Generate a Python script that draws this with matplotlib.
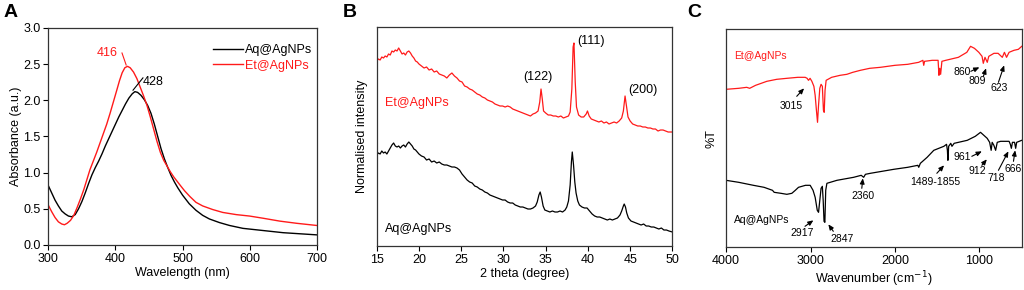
import numpy as np
import matplotlib
matplotlib.use("Agg")
import matplotlib.pyplot as plt

# ---- A: UV-vis absorbance ----
wl_aq = [300, 305, 310, 315, 320, 325, 330, 335, 340, 345, 350, 355, 360, 365, 370, 375, 380, 385, 390, 395,
         400, 405, 410, 415, 420, 425, 429, 433, 438, 443, 448, 453, 458, 463, 468, 473, 478, 483, 488, 493,
         500, 510, 520, 530, 540, 555, 570, 590, 610, 630, 650, 675, 700]
abs_aq = [0.82, 0.72, 0.62, 0.54, 0.47, 0.43, 0.40, 0.39, 0.42, 0.50, 0.60, 0.72, 0.85, 0.97, 1.07, 1.16, 1.26, 1.37, 1.47, 1.57,
          1.67, 1.77, 1.86, 1.95, 2.03, 2.09, 2.12, 2.11, 2.07, 2.01, 1.93, 1.82, 1.67, 1.50, 1.33, 1.19, 1.07, 0.96, 0.87, 0.79,
          0.69, 0.57, 0.48, 0.41, 0.36, 0.31, 0.27, 0.23, 0.21, 0.19, 0.17, 0.155, 0.14]
wl_et = [300, 305, 310, 315, 320, 324, 328, 333, 338, 343, 348, 353, 358, 362, 367, 372, 377, 382, 387, 392,
         397, 402, 406, 410, 414, 418, 422, 427, 432, 437, 442, 447, 452, 457, 462, 467, 472, 477, 482, 487,
         492, 497, 503, 511, 520, 530, 545, 560, 580, 600, 620, 645, 670, 700]
abs_et = [0.55, 0.46, 0.38, 0.32, 0.29, 0.28, 0.30, 0.34, 0.41, 0.52, 0.64, 0.77, 0.92, 1.04, 1.16, 1.28, 1.41, 1.54, 1.67, 1.82,
          1.98, 2.14, 2.27, 2.38, 2.45, 2.47, 2.45, 2.39, 2.30, 2.18, 2.06, 1.93, 1.77, 1.60, 1.43, 1.28, 1.17, 1.09, 1.01, 0.94,
          0.88, 0.82, 0.75, 0.67, 0.59, 0.54, 0.49, 0.45, 0.42, 0.40, 0.37, 0.33, 0.30, 0.27]

# ---- B: XRD (normalised, arbitrary units) ----
tt_et = [15.0, 15.2, 15.4, 15.6, 15.8, 16.0, 16.2, 16.4, 16.6, 16.8, 17.0, 17.2, 17.4, 17.6, 17.8, 18.0, 18.2, 18.4, 18.6, 18.8,
         19.0, 19.2, 19.4, 19.6, 19.8, 20.0, 20.3, 20.6, 20.9, 21.2, 21.5, 21.8, 22.1, 22.4, 22.7, 23.0, 23.3, 23.6, 23.9, 24.2,
         24.5, 24.8, 25.1, 25.4, 25.7, 26.0, 26.3, 26.6, 26.9, 27.2, 27.5, 27.8, 28.1, 28.4, 28.7, 29.0, 29.3, 29.6, 29.9, 30.2,
         30.5, 30.8, 31.1, 31.4, 31.7, 32.0, 32.3, 32.6, 32.9, 33.2, 33.5, 33.8, 34.1, 34.3, 34.45, 34.6, 34.75, 35.0, 35.3, 35.6,
         35.9, 36.2, 36.5, 36.8, 37.1, 37.4, 37.7, 37.9, 38.1, 38.25, 38.35, 38.5, 38.65, 38.9, 39.2, 39.5, 39.8, 39.95, 40.15, 40.4,
         40.7, 41.0, 41.3, 41.6, 41.9, 42.2, 42.5, 42.8, 43.1, 43.4, 43.7, 44.0, 44.2, 44.4, 44.55, 44.75, 45.0, 45.3, 45.6, 45.9,
         46.2, 46.5, 46.8, 47.1, 47.4, 47.7, 48.0, 48.3, 48.6, 48.9, 49.2, 49.5, 49.8, 50.0]
int_et = [186, 188, 187, 190, 189, 191, 190, 193, 192, 196, 195, 197, 196, 199, 196, 193, 194, 192, 195, 196,
          194, 191, 189, 186, 185, 183, 181, 179, 180, 177, 178, 175, 176, 173, 172, 171, 169, 172, 174, 171,
          169, 166, 165, 161, 160, 158, 157, 155, 153, 152, 150, 149, 147, 146, 145, 143, 142, 141, 141, 140,
          141, 140, 138, 137, 136, 135, 134, 133, 132, 131, 133, 134, 136, 145, 158, 148, 136, 134, 132, 132,
          131, 131, 130, 131, 129, 130, 131, 135, 158, 200, 204, 165, 140, 132, 130, 130, 133, 136, 131, 128,
          127, 126, 125, 126, 124, 125, 123, 124, 125, 124, 126, 129, 136, 151, 142, 130, 126, 123, 122, 121,
          121, 120, 120, 119, 119, 118, 118, 116, 117, 117, 116, 115, 115, 115]
tt_aq = [15.0, 15.2, 15.4, 15.6, 15.8, 16.0, 16.2, 16.4, 16.6, 16.8, 17.0, 17.2, 17.4, 17.6, 17.8, 18.0, 18.2, 18.4, 18.6, 18.8,
         19.0, 19.2, 19.4, 19.6, 19.8, 20.0, 20.3, 20.6, 20.9, 21.2, 21.5, 21.8, 22.1, 22.4, 22.7, 23.0, 23.3, 23.6, 23.9, 24.2,
         24.5, 24.8, 25.1, 25.4, 25.7, 26.0, 26.3, 26.6, 26.9, 27.2, 27.5, 27.8, 28.1, 28.4, 28.7, 29.0, 29.3, 29.6, 29.9, 30.2,
         30.5, 30.8, 31.1, 31.4, 31.7, 32.0, 32.3, 32.6, 32.9, 33.2, 33.5, 33.8, 34.0, 34.2, 34.35, 34.5, 34.7, 34.9, 35.2, 35.5,
         35.8, 36.1, 36.4, 36.7, 37.0, 37.3, 37.5, 37.7, 37.9, 38.05, 38.15, 38.3, 38.45, 38.6, 38.8, 39.0, 39.3, 39.6, 39.9, 40.2,
         40.5, 40.8, 41.1, 41.4, 41.7, 42.0, 42.3, 42.6, 42.9, 43.2, 43.5, 43.8, 44.0, 44.2, 44.3, 44.45, 44.6, 44.8, 45.1, 45.4,
         45.7, 46.0, 46.3, 46.6, 46.9, 47.2, 47.5, 47.8, 48.1, 48.4, 48.7, 49.0, 49.3, 49.6, 50.0]
int_aq = [92, 94, 93, 96, 94, 95, 93, 96, 99, 102, 104, 101, 100, 101, 99, 101, 102, 100, 103, 105,
          103, 101, 98, 97, 95, 93, 91, 90, 87, 88, 85, 86, 84, 85, 83, 82, 82, 81, 80, 80,
          79, 77, 73, 70, 67, 65, 64, 61, 60, 58, 57, 55, 54, 52, 51, 50, 49, 48, 47, 47,
          45, 44, 44, 42, 41, 40, 40, 39, 38, 38, 39, 41, 45, 52, 55, 50, 41, 37, 36, 35,
          36, 35, 35, 36, 35, 37, 40, 46, 62, 85, 95, 82, 65, 54, 46, 42, 40, 39, 39, 36,
          33, 31, 30, 30, 29, 28, 27, 28, 27, 28, 29, 32, 36, 41, 43, 40, 34, 29, 26, 25,
          24, 23, 22, 23, 21, 21, 20, 20, 19, 18, 19, 17, 17, 16, 15]

# ---- C: FTIR (%T, arbitrary offset) ----
wn_et = [4000, 3850, 3755, 3720, 3650, 3517, 3400, 3280, 3150, 3063, 3040, 3024, 3005, 2984, 2960, 2945, 2930, 2917, 2905, 2890,
         2875, 2860, 2847, 2838, 2828, 2815, 2750, 2650, 2570, 2500, 2410, 2300, 2173, 2000, 1850, 1720, 1670, 1660, 1650, 1560,
         1490, 1480, 1470, 1460, 1445, 1400, 1350, 1250, 1150, 1106, 1060, 1008, 970, 955, 935, 908, 890, 829, 780, 730,
         705, 680, 650, 592, 540, 500]
t_et = [158, 159, 160, 159, 162, 166, 168, 169, 170, 170, 169, 167, 169, 166, 161, 152, 137, 125, 142, 159,
        163, 161, 137, 135, 157, 167, 170, 172, 173, 175, 177, 179, 180, 182, 183, 185, 187, 182, 186, 187,
        187, 172, 179, 173, 186, 187, 188, 190, 195, 201, 199, 195, 191, 184, 190, 185, 191, 194, 194, 190,
        195, 190, 195, 197, 198, 201]
wn_aq = [4000, 3850, 3676, 3550, 3450, 3430, 3350, 3280, 3221, 3180, 3142, 3060, 3004, 2970, 2945, 2920, 2905, 2890, 2875, 2860,
         2850, 2840, 2830, 2820, 2806, 2687, 2490, 2400, 2371, 2350, 2292, 2015, 1850, 1730, 1719, 1700, 1620, 1541, 1422, 1390,
         1380, 1374, 1365, 1340, 1326, 1300, 1145, 1050, 988, 909, 880, 862, 850, 830, 809, 790, 750, 650, 635, 623,
         610, 585, 572, 560, 500]
t_aq = [67, 65, 62, 60, 57, 55, 54, 53, 54, 57, 60, 62, 62, 57, 50, 37, 35, 47, 59, 61,
        47, 26, 25, 57, 64, 67, 70, 72, 70, 73, 74, 78, 80, 82, 80, 84, 90, 97, 101, 103,
        97, 87, 101, 104, 101, 104, 107, 111, 115, 109, 105, 97, 105, 102, 97, 105, 106, 106, 103, 99,
        105, 105, 99, 105, 107]

# peak labels for C: (text, text pos, arrow tail, arrow head)
ir_labels = [("3015", (3225, 141), (3163, 151), (3076, 159)),
             ("860", (1200, 175), (1103, 176), (1001, 180)),
             ("809", (1022, 166), (954, 171), (922, 179)),
             ("623", (768, 159), (776, 165), (708, 182)),
             ("2917", (3094, 14), (3065, 21), (2966, 27)),
             ("2847", (2632, 8), (2730, 16), (2789, 23)),
             ("2360", (2384, 51), (2393, 59), (2381, 69)),
             ("1489-1855", (1520, 65), (1505, 74), (1419, 82)),
             ("961", (1206, 90), (1091, 91), (972, 96)),
             ("912", (1028, 76), (972, 82), (913, 88)),
             ("718", (803, 69), (776, 77), (658, 96)),
             ("666", (604, 78), (598, 86), (578, 97))]

plt.rcParams['font.family'] = ['Liberation Sans', 'DejaVu Sans']
plt.rcParams['font.size'] = 9
plt.rcParams['axes.linewidth'] = 0.9
plt.rcParams['axes.edgecolor'] = '#333333'
plt.rcParams['xtick.major.size'] = 3.5
plt.rcParams['ytick.major.size'] = 3.5
plt.rcParams['xtick.major.pad'] = 2
plt.rcParams['ytick.major.pad'] = 2

RED = '#ff1a1a'
fig = plt.figure(figsize=(10.24, 2.9), dpi=100)

# A
ax = fig.add_axes([0.0472, 0.1552, 0.2621, 0.7483])
ax.plot(wl_aq, abs_aq, color='black', lw=1.0, label='Aq@AgNPs')
ax.plot(wl_et, abs_et, color=RED, lw=1.0, label='Et@AgNPs')
ax.set_xlim(300, 700)
ax.set_ylim(0, 3.0)
ax.set_xticks([300, 400, 500, 600, 700])
ax.set_yticks(np.arange(0, 3.01, 0.5))
ax.yaxis.set_major_formatter(matplotlib.ticker.FormatStrFormatter('%.1f'))
ax.set_xlabel('Wavelength (nm)', labelpad=2)
ax.set_ylabel('Absorbance (a.u.)', labelpad=1)
ax.text(404, 2.654, '416', color=RED, ha='right', va='center')
ax.plot([409.8, 416], [2.654, 2.488], color=RED, lw=0.8)
ax.text(441, 2.25, '428', color='black', ha='left', va='center')
ax.plot([441, 426.2], [2.31, 2.14], color='black', lw=0.8)
leg = ax.legend(loc='upper left', bbox_to_anchor=(0.59, 0.955), frameon=False, borderpad=0,
                handlelength=2.4, handletextpad=0.2, labelspacing=0.3)
for t, c in zip(leg.get_texts(), ['black', RED]):
    t.set_color(c)
fig.text(0.003, 0.985, 'A', fontsize=14, fontweight='bold', va='top')

# B
ax = fig.add_axes([0.3679, 0.1517, 0.2887, 0.7552])
ax.plot(tt_et, int_et, color=RED, lw=0.9)
ax.plot(tt_aq, int_aq, color='black', lw=0.9)
ax.set_xlim(15, 50)
ax.set_ylim(1, 220)
ax.set_yticks([])
ax.set_xlabel('2 theta (degree)', labelpad=2)
ax.set_ylabel('Normalised intensity', labelpad=6)
ax.text(15.98, 144, 'Et@AgNPs', color=RED, ha='left', va='center')
ax.text(15.98, 18, 'Aq@AgNPs', color='black', ha='left', va='center')
ax.text(34.04, 170, '(122)', ha='center', va='center')
ax.text(40.37, 206, '(111)', ha='center', va='center')
ax.text(46.47, 157, '(200)', ha='center', va='center')
fig.text(0.335, 0.985, 'B', fontsize=14, fontweight='bold', va='top')

# C
ax = fig.add_axes([0.7090, 0.1472, 0.2888, 0.7517])
ax.plot(wn_et, t_et, color=RED, lw=0.9)
ax.plot(wn_aq, t_aq, color='black', lw=0.9)
ax.set_xlim(4000, 500)
ax.set_ylim(0, 218)
ax.set_xticks([4000, 3000, 2000, 1000])
ax.set_yticks([])
ax.set_xlabel('Wavenumber (cm$^{-1}$)', labelpad=2)
ax.set_ylabel('%T', labelpad=6)
ax.text(3905, 191, 'Et@AgNPs', color=RED, ha='left', va='center', fontsize=7.5)
ax.text(3905, 27, 'Aq@AgNPs', color='black', ha='left', va='center', fontsize=7.5)
for lab, tp, tail, head in ir_labels:
    ax.text(tp[0], tp[1], lab, ha='center', va='center', fontsize=7.5)
    ax.annotate('', xy=head, xytext=tail,
                arrowprops=dict(arrowstyle='-|>,head_length=0.35,head_width=0.15', color='black', lw=0.8,
                                shrinkA=0, shrinkB=0))
fig.text(0.671, 0.985, 'C', fontsize=14, fontweight='bold', va='top')

fig.savefig('out.png', dpi=100)
